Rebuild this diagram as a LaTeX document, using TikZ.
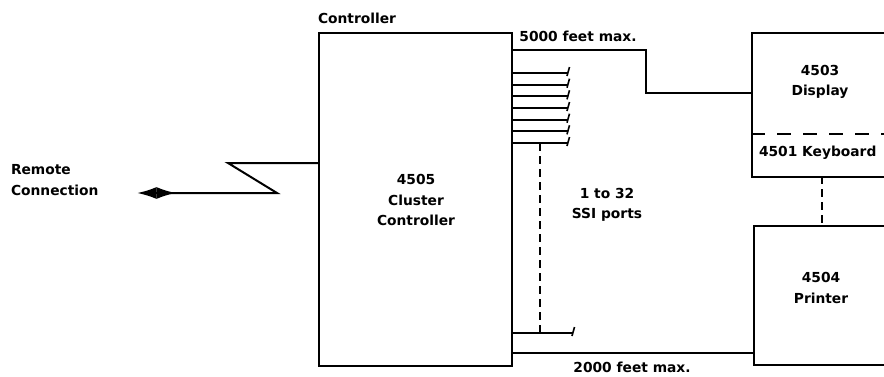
\documentclass[tikz,border=0pt]{standalone}
\usepackage{fontspec}
\setmainfont{DejaVu Sans}
\usetikzlibrary{arrows.meta}
\begin{document}
\begin{tikzpicture}[x=1pt,y=-1pt, line width=2pt,
  lbl/.style={font=\bfseries\fontsize{13.8}{20.5}\selectfont, inner sep=0pt, align=center},
  box/.style={draw, rectangle, inner sep=0pt, line width=2pt},
  dsh/.style={dash pattern=on 8pt off 5pt},
  kdsh/.style={dash pattern=on 14pt off 12pt}]
\useasboundingbox (0,0) rectangle (884,376);
\clip (0,0) rectangle (884,376);
% boxes
\node[box, minimum width=193pt, minimum height=333pt, anchor=north west] (ctrl) at (318,32) {};
\node[lbl] (ctrltxt) at (416,200) {4505\\Cluster\\Controller};
\node[lbl, anchor=west] (ctrllbl) at (317,18) {Controller};
\node[box, minimum width=200pt, minimum height=144pt, anchor=north west] (disp) at (751,32) {};
\node[lbl] (disptxt) at (820,82) {4503\\Display};
\node[lbl, anchor=west] (kbd) at (758,153) {4501 Keyboard};
\node[box, minimum width=200pt, minimum height=139pt, anchor=north west] (prn) at (753,225) {};
\node[lbl] (prntxt) at (821,288) {4504\\Printer};
\draw[kdsh] (disp.west |- 0,134) -- (884,134);
% labels
\node[lbl] (l5000) at (578,36) {5000 feet max.};
\node[lbl] (l2000) at (632,367) {2000 feet max.};
\node[lbl] (lssi) at (607,205) {1 to 32\\SSI ports};
\node[lbl, align=left, anchor=west] (lrem) at (10,180) {Remote\\Connection};
% remote connection
\coordinate (rl) at (137,193);
\coordinate (rr) at (176,193);
\draw[{Latex[length=19.5pt,width=12pt]}-{Latex[length=19.5pt,width=12pt]}] (rl) -- (rr);
\draw (ctrl.west |- 0,163) -- (228,163) -- (277,193) -- (170,193);
% 5000 feet line
\draw (ctrl.east |- 0,50) -| (646,93) -- (disp.west |- 0,93);
% 2000 feet line
\draw (ctrl.east |- 0,353) -- (prn.west |- 0,353);
% keyboard to printer
\draw[dsh] (822,176) -- (822,225);
% ports
\foreach \yy in {73,84.7,96.3,108,119.7,131.3,143}{
  \draw (ctrl.east |- 0,\yy) -- (568,\yy);
  \draw[line width=1.6pt] (567,\yy+3) -- (569.5,\yy-6);
}
\draw (ctrl.east |- 0,333) -- (573,333);
\draw[line width=1.6pt] (572,336) -- (574.5,327);
\draw[dsh] (540,143) -- (540,333);
\end{tikzpicture}
\end{document}
